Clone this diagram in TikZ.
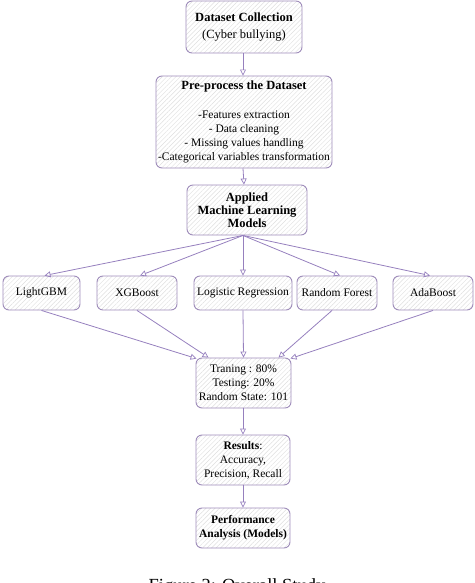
\documentclass[tikz,border=0pt]{standalone}
\usepackage{fontspec}
\setmainfont{Liberation Serif}
\usetikzlibrary{arrows.meta,patterns.meta,calc}
\definecolor{boxline}{RGB}{158,140,186}
\definecolor{arrline}{RGB}{150,128,190}
\tikzset{
  box/.style={draw=boxline, line width=0.9pt, rounded corners=6pt,
    pattern={Lines[angle=45,distance=3.2pt,line width=0.45pt]}, pattern color=black!13,
    align=center, inner sep=1pt, text=black},
  conn/.style={draw=arrline, line width=0.8pt,
    -{Triangle[open,length=6pt,width=6pt,line width=0.7pt]}},
  ttl/.style={font=\fontsize{12.5}{17}\selectfont\bfseries},
  reg/.style={font=\fontsize{11.5}{14}\selectfont},
}
\begin{document}
\begin{tikzpicture}[x=1pt,y=-1pt]
\useasboundingbox (0,0) rectangle (474,583);

\node[box, minimum width=116pt, minimum height=52pt, ttl] (dc) at (244,27)
  {Dataset Collection\\\mdseries (Cyber bullying)};

\node[box, minimum width=176pt, minimum height=92pt, reg] (pp) at (244,122)
  {\fontsize{12.5}{14}\selectfont\bfseries Pre-process the Dataset\\[15pt]
   -Features extraction\\ - Data cleaning\\ - Missing values handling\\
   -Categorical variables transformation};

\node[box, minimum width=120pt, minimum height=50pt,
  font=\fontsize{12.5}{13}\selectfont\bfseries] (ml) at (247,210)
  {Applied\\Machine Learning\\Models};

\node[box, minimum width=77pt, minimum height=34pt, reg] (lg) at (41.5,293) {LightGBM};
\node[box, minimum width=80pt, minimum height=34pt, reg] (xg) at (137,293) {XGBoost};
\node[box, minimum width=98pt, minimum height=34pt, reg] (lr) at (243,293) {Logistic Regression};
\node[box, minimum width=80pt, minimum height=34pt, reg] (rf) at (337,293) {Random Forest};
\node[box, minimum width=80pt, minimum height=34pt, reg] (ab) at (433,293) {AdaBoost};

\node[box, minimum width=95pt, minimum height=50pt, reg] (tr) at (243.5,383)
  {Traning : 80\%\\Testing: 20\%\\Random State: 101};

\node[box, minimum width=94pt, minimum height=50pt, reg] (rs) at (243,460)
  {\textbf{Results}:\\Accuracy,\\Precision, Recall};

\node[box, minimum width=94pt, minimum height=40pt,
  font=\fontsize{11.5}{14}\selectfont\bfseries] (pa) at (243,528)
  {Performance\\Analysis (Models)};

\node[anchor=base, font=\fontsize{18.5}{20}\selectfont, inner sep=0pt] (cap) at (237,591)
  {Figure 2: Overall Study};

\draw[conn] ([xshift=-1pt]dc.south) -- ([xshift=-1pt]pp.north);
\draw[conn] ([xshift=-1pt]pp.south) -- ([xshift=-3pt]ml.north);

\draw[conn] ([xshift=-4pt]ml.south) -- ([xshift=3pt]lg.north);
\draw[conn] ([xshift=-4pt]ml.south) -- ([xshift=3pt]xg.north);
\draw[conn] ([xshift=-4pt]ml.south) -- (lr.north);
\draw[conn] ([xshift=-4pt]ml.south) -- ([xshift=3pt]rf.north);
\draw[conn] ([xshift=-4pt]ml.south) -- ([xshift=-3pt]ab.north);

\draw[conn] (lg.south) -- ([xshift=1pt,yshift=-1pt]tr.north west);
\draw[conn] (xg.south) -- ([xshift=-35pt]tr.north);
\draw[conn] (lr.south) -- (tr.north);
\draw[conn] ([xshift=-5pt]rf.south) -- ([xshift=35pt]tr.north);
\draw[conn] (ab.south) -- ([xshift=-1pt,yshift=-1pt]tr.north east);

\draw[conn] ([xshift=-0.5pt]tr.south) -- (rs.north);
\draw[conn] (rs.south) -- (pa.north);
\end{tikzpicture}
\end{document}
